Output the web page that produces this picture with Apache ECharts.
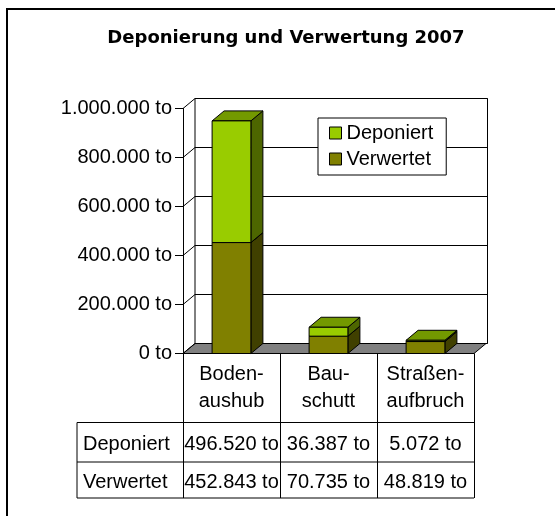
<!DOCTYPE html>
<html>
<head>
<meta charset="utf-8">
<script src="https://cdn.jsdelivr.net/npm/echarts@6/dist/echarts.min.js"></script>
<style>
html,body{margin:0;padding:0;background:#fff;}
#chart{width:555px;height:516px;}
</style>
</head>
<body>
<div id="chart"></div>
<script>
// ---- data ----
const categories = ["Boden-\naushub", "Bau-\nschutt", "Straßen-\naufbruch"];
const seriesNames = ["Deponiert", "Verwertet"];
const deponiert = [496520, 36387, 5072];
const verwertet = [452843, 70735, 48819];
const yTicks = [0, 200000, 400000, 600000, 800000, 1000000];
const unit = " to";

// ---- style / layout ----
const FONT = '"Liberation Sans", Arial, sans-serif';
const FRONT = { left: 183, top: 108.5, width: 291, height: 245 };
const DEPTH = { dx: 12, dy: -10 };
const COLORS = {
  Deponiert: { front: '#99CC00', side: '#4D6600', top: '#739900' },
  Verwertet: { front: '#808000', side: '#404000', top: '#606000' }
};
const TABLE = { left: 77, rowLines: [422.5, 462, 498], textY: [444, 482.5] };

function fmt(v) {
  return String(Math.round(v)).replace(/\B(?=(\d{3})+(?!\d))/g, '.') + unit;
}

function barRender(c) {
  return function (params, api) {
    const i = api.value(0), b = api.value(1), t = api.value(2);
    const p0 = api.coord([i, b]);
    const p1 = api.coord([i, t]);
    const w = api.size([1, 0])[0] * 0.4;
    const x0 = p0[0] - w / 2, x1 = p0[0] + w / 2;
    const yb = p0[1], yt = p1[1];
    const dx = DEPTH.dx, dy = DEPTH.dy;
    const st = { stroke: '#000', lineWidth: 1 };
    return {
      type: 'group',
      children: [
        { type: 'polygon', shape: { points: [[x1, yb], [x1 + dx, yb + dy], [x1 + dx, yt + dy], [x1, yt]] },
          style: Object.assign({ fill: c.side }, st) },
        { type: 'polygon', shape: { points: [[x0, yt], [x0 + dx, yt + dy], [x1 + dx, yt + dy], [x1, yt]] },
          style: Object.assign({ fill: c.top }, st) },
        { type: 'rect', shape: { x: x0, y: yt, width: w, height: yb - yt },
          style: Object.assign({ fill: c.front }, st) }
      ]
    };
  };
}

function wallRender(params, api) {
  const cs = params.coordSys;
  const dx = DEPTH.dx, dy = DEPTH.dy;
  const yb = cs.y + cs.height;
  const children = [
    { type: 'polygon', shape: { points: [[cs.x, yb], [cs.x + cs.width, yb], [cs.x + cs.width + dx, yb + dy], [cs.x + dx, yb + dy]] },
      style: { fill: '#808080', stroke: '#000', lineWidth: 1 } }
  ];
  yTicks.forEach(function (tv) {
    const y = api.coord([0, tv])[1];
    children.push({ type: 'line', shape: { x1: cs.x, y1: y, x2: cs.x + dx, y2: y + dy },
      style: { stroke: '#000', lineWidth: 1 } });
  });
  return { type: 'group', children: children };
}

const chart = echarts.init(document.getElementById('chart'), null, { renderer: 'canvas' });

const graphics = [
  { type: 'rect', silent: true, z: 100, shape: { x: 7, y: 9, width: 600, height: 600 },
    style: { fill: 'none', stroke: '#000', lineWidth: 2 } }
];
// table horizontal lines
const tableRight = FRONT.left + FRONT.width;
TABLE.rowLines.forEach(function (y) {
  graphics.push({ type: 'line', shape: { x1: TABLE.left, y1: y, x2: tableRight, y2: y },
    style: { stroke: '#000', lineWidth: 1 } });
});
graphics.push({ type: 'line', shape: { x1: TABLE.left, y1: TABLE.rowLines[0], x2: TABLE.left, y2: TABLE.rowLines[2] },
  style: { stroke: '#000', lineWidth: 1 } });
// table texts
const rows = [deponiert, verwertet];
const cw = FRONT.width / categories.length;
seriesNames.forEach(function (name, r) {
  graphics.push({ type: 'text', x: TABLE.left + 6, y: TABLE.textY[r],
    style: { text: name, font: '20px ' + FONT, fill: '#000', align: 'left', verticalAlign: 'middle' } });
  rows[r].forEach(function (v, i) {
    graphics.push({ type: 'text', x: FRONT.left + cw * (i + 0.5), y: TABLE.textY[r],
      style: { text: fmt(v), font: '20px ' + FONT, fill: '#000', align: 'center', verticalAlign: 'middle' } });
  });
});

const option = {
  animation: false,
  backgroundColor: '#fff',
  title: {
    text: 'Deponierung und Verwertung 2007',
    left: 286, top: 29, textAlign: 'center', padding: 0,
    textStyle: { fontFamily: '"DejaVu Sans", sans-serif', fontWeight: 'bold', fontSize: 18, color: '#000' }
  },
  legend: {
    left: 318, top: 118, orient: 'vertical',
    padding: [5, 13, 6, 11], itemGap: 6, itemWidth: 12, itemHeight: 12,
    backgroundColor: '#fff', borderColor: '#000', borderWidth: 1,
    textStyle: { fontFamily: FONT, fontSize: 20, color: '#000' },
    data: seriesNames.map(function (n) {
      return { name: n, icon: 'rect', itemStyle: { color: COLORS[n].front, borderColor: '#000', borderWidth: 1 } };
    })
  },
  grid: [
    { left: FRONT.left, top: FRONT.top, width: FRONT.width, height: FRONT.height },
    { left: FRONT.left + DEPTH.dx, top: FRONT.top + DEPTH.dy, width: FRONT.width + 1.5, height: FRONT.height,
      show: true, backgroundColor: '#fff', borderColor: '#000', borderWidth: 1 }
  ],
  xAxis: [
    { type: 'category', gridIndex: 0, data: categories,
      axisLine: { show: true, lineStyle: { color: '#000', width: 1 } },
      axisTick: { show: true, length: TABLE.rowLines[2] - (FRONT.top + FRONT.height), lineStyle: { color: '#000', width: 1 } },
      axisLabel: { fontFamily: FONT, fontSize: 20, color: '#000', lineHeight: 26.5, margin: 8, interval: 0 } },
    { type: 'category', gridIndex: 1, data: categories, show: false }
  ],
  yAxis: [
    { type: 'value', gridIndex: 0, min: yTicks[0], max: yTicks[yTicks.length - 1], interval: yTicks[1] - yTicks[0],
      splitLine: { show: false },
      axisLine: { show: true, lineStyle: { color: '#000', width: 1 } },
      axisTick: { show: true, length: 8, lineStyle: { color: '#000', width: 1 } },
      axisLabel: { fontFamily: FONT, fontSize: 20, color: '#000', margin: 11, formatter: fmt } },
    { type: 'value', gridIndex: 1, min: yTicks[0], max: yTicks[yTicks.length - 1], interval: yTicks[1] - yTicks[0],
      axisLine: { show: false }, axisTick: { show: false }, axisLabel: { show: false },
      splitLine: { show: true, lineStyle: { color: '#000', width: 1 } } }
  ],
  series: [
    { type: 'custom', name: '_walls', xAxisIndex: 0, yAxisIndex: 0, silent: true,
      renderItem: wallRender, data: [[0, 0]], encode: { x: 0, y: 1 } },
    { type: 'custom', name: 'Verwertet', xAxisIndex: 0, yAxisIndex: 0,
      itemStyle: { color: COLORS.Verwertet.front },
      renderItem: barRender(COLORS.Verwertet),
      encode: { x: 0, y: [1, 2] },
      data: verwertet.map(function (v, i) { return [i, 0, v]; }) },
    { type: 'custom', name: 'Deponiert', xAxisIndex: 0, yAxisIndex: 0,
      itemStyle: { color: COLORS.Deponiert.front },
      renderItem: barRender(COLORS.Deponiert),
      encode: { x: 0, y: [1, 2] },
      data: deponiert.map(function (d, i) { return [i, verwertet[i], verwertet[i] + d]; }) }
  ],
  graphic: graphics
};
chart.setOption(option);
</script>
</body>
</html>
